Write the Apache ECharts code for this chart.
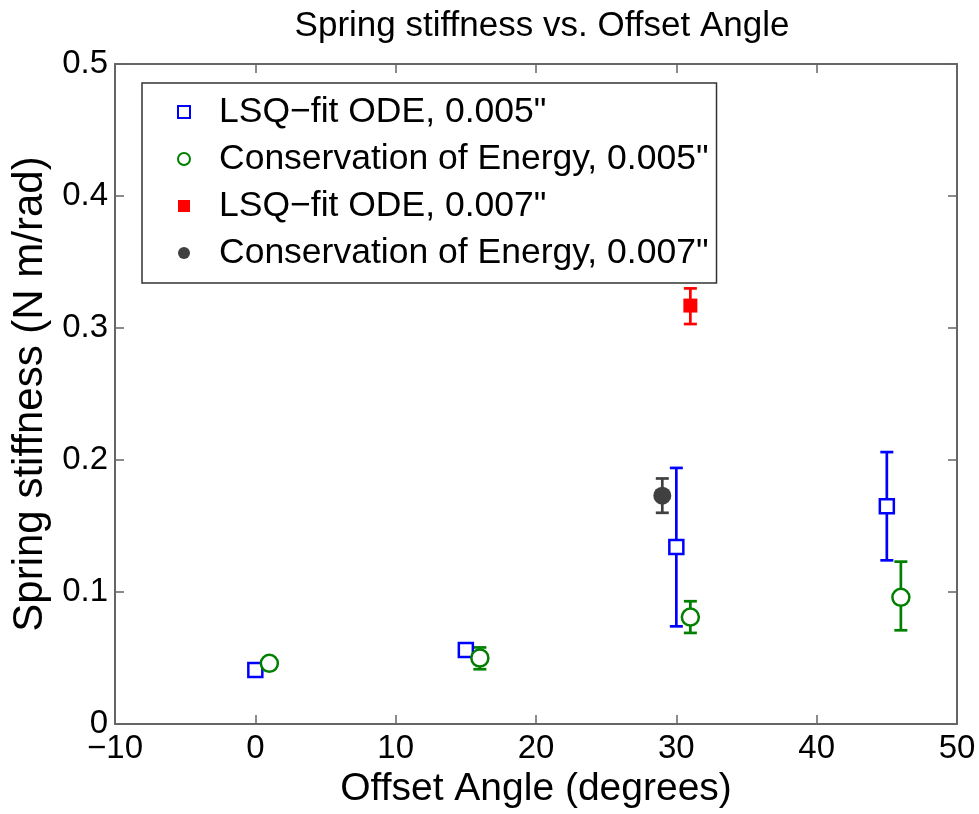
<!DOCTYPE html>
<html>
<head>
<meta charset="utf-8">
<script src="https://cdn.jsdelivr.net/npm/echarts@6/dist/echarts.min.js"></script>
<style>
html,body{margin:0;padding:0;background:#fff;}
#chart{width:979px;height:814px;}
</style>
</head>
<body>
<div id="chart"></div>
<script>
// ---- data ----
const xTicks = [-10, 0, 10, 20, 30, 40, 50];
const yTicks = [0, 0.1, 0.2, 0.3, 0.4, 0.5];

const seriesNames = ['LSQ\u2212fit ODE, 0.005"', 'Conservation of Energy, 0.005"', 'LSQ\u2212fit ODE, 0.007"', 'Conservation of Energy, 0.007"'];

const lsq005X  = [0, 15, 30, 45];
const lsq005Y  = [0.041, 0.056, 0.134, 0.165];
const lsq005Lo = [0.041, 0.056, 0.074, 0.124];
const lsq005Hi = [0.041, 0.056, 0.194, 0.206];

const cons005X  = [1, 16, 31, 46];
const cons005Y  = [0.046, 0.050, 0.081, 0.096];
const cons005Lo = [0.046, 0.0415, 0.069, 0.071];
const cons005Hi = [0.046, 0.058, 0.093, 0.123];

const lsq007X  = [31];
const lsq007Y  = [0.317];
const lsq007Lo = [0.303];
const lsq007Hi = [0.330];

const cons007X  = [29];
const cons007Y  = [0.173];
const cons007Lo = [0.160];
const cons007Hi = [0.186];

// ---- build ----
function pts(xs, ys) { return xs.map((x, i) => [x, ys[i]]); }
function errs(xs, lo, hi) { return xs.map((x, i) => [x, lo[i], hi[i]]); }

function errorSeries(name, data, color) {
  return {
    type: 'custom',
    name: name,
    data: data,
    z: 1,
    silent: true,
    encode: { x: 0, y: [1, 2] },
    renderItem: function (params, api) {
      const x = api.value(0), lo = api.value(1), hi = api.value(2);
      if (lo === hi) return null;
      const pLo = api.coord([x, lo]);
      const pHi = api.coord([x, hi]);
      const w = 6.5;
      const st = { stroke: color, lineWidth: 2.7 };
      return {
        type: 'group',
        children: [
          { type: 'line', shape: { x1: pLo[0], y1: pLo[1], x2: pHi[0], y2: pHi[1] }, style: st },
          { type: 'line', shape: { x1: pLo[0] - w, y1: pLo[1], x2: pLo[0] + w, y2: pLo[1] }, style: st },
          { type: 'line', shape: { x1: pHi[0] - w, y1: pHi[1], x2: pHi[0] + w, y2: pHi[1] }, style: st }
        ]
      };
    }
  };
}

const FONT = '"Liberation Sans", Arial, Helvetica, sans-serif';
const axisColor = '#666';

const chart = echarts.init(document.getElementById('chart'), null, { renderer: 'canvas' });
chart.setOption({
  animation: false,
  backgroundColor: '#fff',
  title: {
    text: 'Spring stiffness vs. Offset Angle',
    left: 537, top: 4, textAlign: 'center',
    textStyle: { fontFamily: FONT, fontSize: 35, fontWeight: 'normal', color: '#000' }
  },
  legend: {
    data: seriesNames,
    orient: 'vertical',
    left: 142, top: 83,
    padding: [9, 8, 10, 35],
    itemGap: 7,
    itemWidth: 12, itemHeight: 12,
    borderColor: '#333', borderWidth: 1.5,
    backgroundColor: '#fff',
    textStyle: { fontFamily: FONT, fontSize: 35.5, color: '#000', lineHeight: 40, padding: [0, 0, 0, 24] }
  },
  grid: { left: 115, right: 22, top: 64, bottom: 83, containLabel: false },
  xAxis: [{
    type: 'value', min: -10, max: 50, interval: 10,
    name: 'Offset Angle (degrees)', nameLocation: 'middle', nameGap: 46,
    nameTextStyle: { fontFamily: FONT, fontSize: 39, color: '#000' },
    axisLine: { show: true, onZero: false, lineStyle: { color: axisColor, width: 2 } },
    axisTick: { show: true, inside: true, length: 9, lineStyle: { color: axisColor, width: 1.5 } },
    axisLabel: { fontFamily: FONT, fontSize: 33, color: '#000', margin: 8,
      formatter: v => (v < 0 ? '\u2212' + Math.abs(v) : String(v)) },
    splitLine: { show: false }
  }, {
    type: 'value', min: -10, max: 50, interval: 10, position: 'top',
    axisLine: { show: true, onZero: false, lineStyle: { color: axisColor, width: 2 } },
    axisTick: { show: true, inside: true, length: 9, lineStyle: { color: axisColor, width: 1.5 } },
    axisLabel: { show: false }, splitLine: { show: false }
  }],
  yAxis: [{
    type: 'value', min: 0, max: 0.5, interval: 0.1,
    name: 'Spring stiffness (N m/rad)', nameLocation: 'middle', nameGap: 62,
    nameTextStyle: { fontFamily: FONT, fontSize: 42, color: '#000' },
    axisLine: { show: true, onZero: false, lineStyle: { color: axisColor, width: 2 } },
    axisTick: { show: true, inside: true, length: 9, lineStyle: { color: axisColor, width: 1.5 } },
    axisLabel: { fontFamily: FONT, fontSize: 33, color: '#000', margin: 7 },
    splitLine: { show: false }
  }, {
    type: 'value', min: 0, max: 0.5, interval: 0.1, position: 'right',
    axisLine: { show: true, onZero: false, lineStyle: { color: axisColor, width: 2 } },
    axisTick: { show: true, inside: true, length: 9, lineStyle: { color: axisColor, width: 1.5 } },
    axisLabel: { show: false }, splitLine: { show: false }
  }],
  series: [
    errorSeries('err1', errs(lsq005X, lsq005Lo, lsq005Hi), '#0000ff'),
    errorSeries('err2', errs(cons005X, cons005Lo, cons005Hi), '#008000'),
    errorSeries('err3', errs(lsq007X, lsq007Lo, lsq007Hi), '#ff0000'),
    errorSeries('err4', errs(cons007X, cons007Lo, cons007Hi), '#404040'),
    { type: 'scatter', name: seriesNames[0], data: pts(lsq005X, lsq005Y), symbol: 'rect', symbolSize: 14, z: 3,
      itemStyle: { color: '#fff', borderColor: '#0000ff', borderWidth: 2.5, opacity: 1 } },
    { type: 'scatter', name: seriesNames[1], data: pts(cons005X, cons005Y), symbol: 'circle', symbolSize: 17, z: 3,
      itemStyle: { color: '#fff', borderColor: '#008000', borderWidth: 2.5, opacity: 1 } },
    { type: 'scatter', name: seriesNames[2], data: pts(lsq007X, lsq007Y), symbol: 'rect', symbolSize: 14, z: 3,
      itemStyle: { color: '#ff0000', borderColor: '#ff0000', borderWidth: 0, opacity: 1 } },
    { type: 'scatter', name: seriesNames[3], data: pts(cons007X, cons007Y), symbol: 'circle', symbolSize: 18, z: 3,
      itemStyle: { color: '#404040', borderColor: '#404040', borderWidth: 0, opacity: 1 } }
  ]
});
</script>
</body>
</html>
